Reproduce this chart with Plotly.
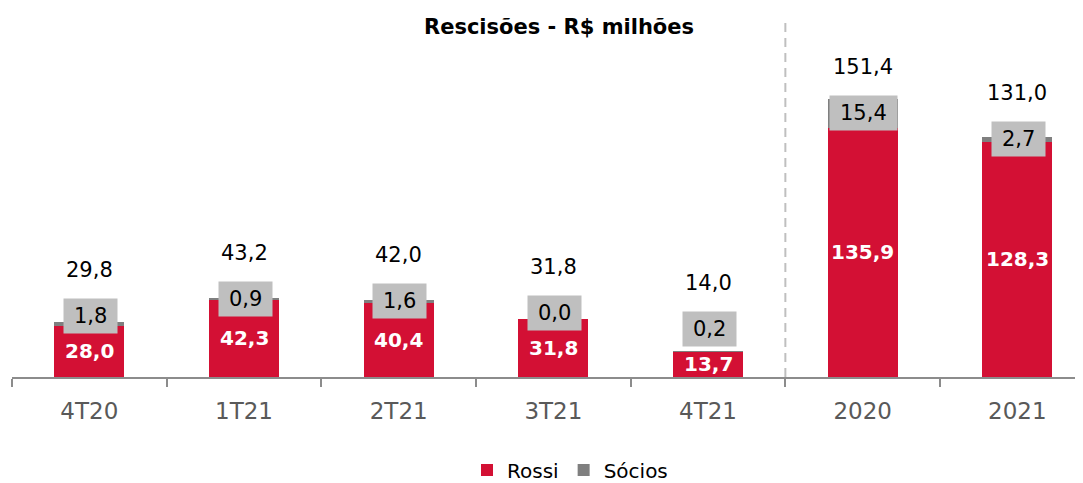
import plotly.graph_objects as go

categories = ["4T20", "1T21", "2T21", "3T21", "4T21", "2020", "2021"]
rossi = [28.0, 42.3, 40.4, 31.8, 13.7, 135.9, 128.3]
socios = [1.8, 0.9, 1.6, 0.0, 0.2, 15.4, 2.7]
totals = [29.8, 43.2, 42.0, 31.8, 14.0, 151.4, 131.0]

RED = "#D31034"
DGRAY = "#7F7F7F"
BOX = "#BFBFBF"
FONT = "DejaVu Sans"

def fmt(v):
    return f"{v:.1f}".replace(".", ",")

# page body has an 8px margin: figure is drawn at (8, 8)
OFF = 8
W, H = 1083 - OFF, 483 - OFF
ML, MR, MT, MB = 12 - OFF, 0, 10 - OFF, 483 - 377
plot_h = H - MT - MB
plot_w = W - ML - MR
YMAX = 200.0
scale = plot_h / YMAX  # px per unit

fig = go.Figure()
fig.add_trace(go.Bar(x=categories, y=rossi, name="Rossi", marker=dict(color=RED, line=dict(width=0)),
                     hoverinfo="skip"))
fig.add_trace(go.Bar(x=categories, y=socios, name="Sócios", marker=dict(color=DGRAY, line=dict(width=0)),
                     hoverinfo="skip"))

annotations = []
def text_w(s, size):
    w = 0
    for ch in s:
        w += 0.318 if ch == "," else 0.636
    return w * size

for i, c in enumerate(categories):
    # Rossi label (white bold, centred in segment)
    annotations.append(dict(x=i, y=rossi[i] / 2, text=f"<b>{fmt(rossi[i])}</b>", showarrow=False,
                            font=dict(family=FONT, size=20, color="white"), yanchor="middle"))
    # Sócios label in grey box
    mid = rossi[i] + socios[i] / 2
    sy = max(mid, rossi[i] / 2 + 35 / scale)
    st = fmt(socios[i])
    annotations.append(dict(x=i, y=sy, text=st, showarrow=False, bgcolor=BOX, xshift=1,
                            width=text_w(st, 21) + 20, height=34, borderpad=0,
                            font=dict(family=FONT, size=21, color="black"), yanchor="middle"))
    # Total label
    annotations.append(dict(x=i, y=sy + 46 / scale, text=fmt(totals[i]), showarrow=False,
                            font=dict(family=FONT, size=21, color="black"), yanchor="middle"))

fig.update_layout(
    width=W, height=H,
    margin=dict(l=ML, r=MR, t=MT, b=MB, pad=0, autoexpand=False),
    paper_bgcolor="white", plot_bgcolor="white",
    barmode="stack", bargap=0.547,
    title=dict(text="<b>Rescisões - R$ milhões</b>", x=(559 - OFF) / W, xref="container", xanchor="center",
               y=1 - (27 - OFF) / H, yref="container", yanchor="middle",
               font=dict(family=FONT, size=21, color="black")),
    xaxis=dict(type="category", range=[-0.5, 6.5 - 11.7 / 154.67], showgrid=False, automargin=False,
               showline=True, linecolor="#8C8C8C", linewidth=2,
               ticks="outside", tickson="boundaries", ticklen=8, tickwidth=2, tickcolor="#8C8C8C",
               ticklabelstandoff=12,
               tickfont=dict(family=FONT, size=23, color="#595959"), fixedrange=True),
    yaxis=dict(range=[0, YMAX], visible=False, showgrid=False, zeroline=False, fixedrange=True,
               automargin=False),
    legend=dict(orientation="h", x=(570 - 12) / plot_w, xanchor="center", y=(377 - 470) / plot_h,
                yanchor="middle", font=dict(family=FONT, size=20, color="black"), itemwidth=30,
                traceorder="normal", borderwidth=0),
    showlegend=True,
    annotations=annotations,
    shapes=[dict(type="line", xref="x", yref="paper", x0=4.5, x1=4.5, y0=0, y1=(377 - 22) / plot_h,
                 line=dict(color="#BFBFBF", width=2, dash="9px,6px"), layer="below")],
)

fig.write_html("out.html", config={"displayModeBar": False})
